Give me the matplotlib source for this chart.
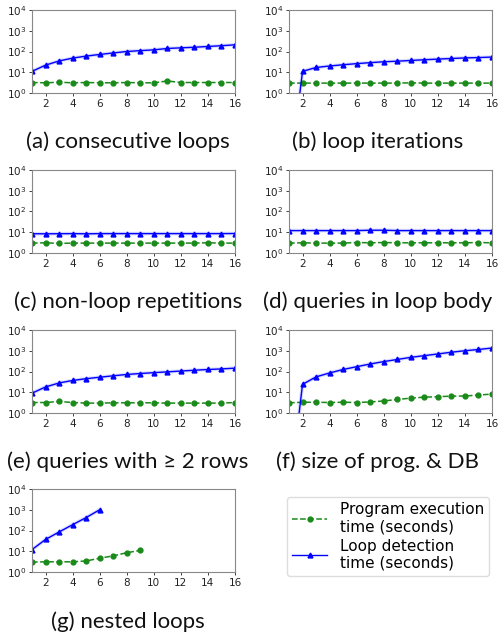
import numpy as np
from matplotlib import pyplot as plt

x16 = np.arange(1, 17)

# program execution time (seconds), one list per panel
exec_a = [3.2, 3.1, 3.3, 3.1, 3.2, 3.1, 3.1, 3.2, 3.1, 3.1, 3.8, 3.2, 3.2, 3.2, 3.2, 3.2]
exec_b = [3.0, 3.0, 3.0, 3.0, 3.0, 3.0, 3.0, 3.0, 3.0, 3.1, 3.0, 3.0, 3.0, 3.0, 3.0, 3.0]
exec_c = [3.0, 3.1, 2.9, 3.0, 3.0, 3.0, 3.0, 3.0, 3.0, 3.0, 3.0, 3.0, 3.0, 3.1, 3.0, 3.0]
exec_d = [3.0, 3.1, 3.0, 3.0, 3.0, 3.2, 3.1, 3.2, 3.1, 3.1, 3.1, 3.1, 3.1, 3.1, 3.2, 3.1]
exec_e = [3.2, 3.2, 3.6, 3.2, 3.0, 3.0, 3.1, 3.1, 3.1, 3.1, 3.0, 3.0, 3.0, 3.0, 3.0, 3.2]
exec_f = [3.1, 3.3, 3.3, 3.2, 3.3, 3.2, 3.4, 3.8, 4.5, 5.2, 5.8, 6.1, 6.5, 6.6, 7.3, 8.2]
exec_g = [3.0, 3.1, 3.1, 3.1, 3.4, 4.6, 6.0, 8.5, 11.0]

# loop detection time (seconds)
det_a = [11, 22, 35, 48, 60, 72, 85, 100, 110, 120, 140, 150, 160, 175, 190, 210]
det_b = [6e-5, 11, 17, 20, 23, 26, 29, 32, 34, 37, 40, 43, 46, 49, 51, 54]
det_c = [8.5, 8.4, 8.5, 8.6, 8.4, 8.6, 8.6, 8.6, 8.6, 8.6, 8.6, 8.6, 8.6, 8.6, 8.6, 8.7]
det_d = [12, 12, 12, 12, 12, 12, 12.5, 12.5, 12, 12, 12, 12, 12, 12, 12, 12]
det_e = [9, 18, 28, 37, 45, 53, 62, 72, 80, 88, 96, 105, 115, 125, 133, 145]
det_f = [8e-5, 24, 55, 85, 125, 170, 230, 300, 380, 480, 580, 700, 850, 1000, 1150, 1350]
det_g = [12, 37, 85, 190, 420, 1000]

captions = ["(a) consecutive loops", "(b) loop iterations",
            "(c) non-loop repetitions", "(d) queries in loop body",
            "(e) queries with \u2265 2 rows", "(f) size of prog. & DB",
            "(g) nested loops"]

panels = [(exec_a, det_a), (exec_b, det_b), (exec_c, det_c), (exec_d, det_d),
          (exec_e, det_e), (exec_f, det_f), (exec_g, det_g)]

W, H = 499, 639
fig = plt.figure(figsize=(W / 100, H / 100), dpi=100)

col_left = [32, 289]
row_top = [10, 170, 330, 489]
cap_x = [128, 378]
cap_y = [142, 302, 462, 622]
ax_w, ax_h = 203, 83

for i, (ex, de) in enumerate(panels):
    r, c = divmod(i, 2)
    ax = fig.add_axes([col_left[c] / W, 1 - (row_top[r] + ax_h) / H, ax_w / W, ax_h / H])
    xe = np.arange(1, len(ex) + 1)
    xd = np.arange(1, len(de) + 1)
    # faint halo around the detection curve
    ax.plot(xd, de, color='#6f6fff', lw=2.6, alpha=0.25)
    ax.plot(xe, ex, color='#1a8a1a', ls='--', marker='o', ms=3.5, lw=1.1,
            label='Program execution\ntime (seconds)')
    ax.plot(xd, de, 'b-^', ms=3.5, lw=1.0, label='Loop detection\ntime (seconds)')
    ax.set_yscale('log')
    ax.set_ylim(1, 1e4)
    ax.set_xlim(1, 16)
    ax.set_xticks(range(2, 17, 2))
    ax.set_yticks([1, 10, 100, 1000, 10000])
    ax.tick_params(labelsize=7.5, length=2.5, width=0.6, pad=1.5, colors='#222222')
    ax.tick_params(which='minor', length=1.5, width=0.4)
    for s in ax.spines.values():
        s.set_color('#888888')
        s.set_linewidth(0.8)
    fig.text(cap_x[c] / W, 1 - cap_y[r] / H, captions[i], ha='center', va='center',
             fontsize=16, family='Lato', color='#111111')
    if i == 0:
        handles, labels = ax.get_legend_handles_labels()

fig.legend(handles, labels, loc='upper left',
           bbox_to_anchor=(287 / W, 1 - 497 / H), fontsize=11,
           handlelength=2.3, labelspacing=0.25, borderpad=0.35, handletextpad=0.8,
           borderaxespad=0, framealpha=1, edgecolor='#dddddd')

fig.savefig('out.png', dpi=100)
